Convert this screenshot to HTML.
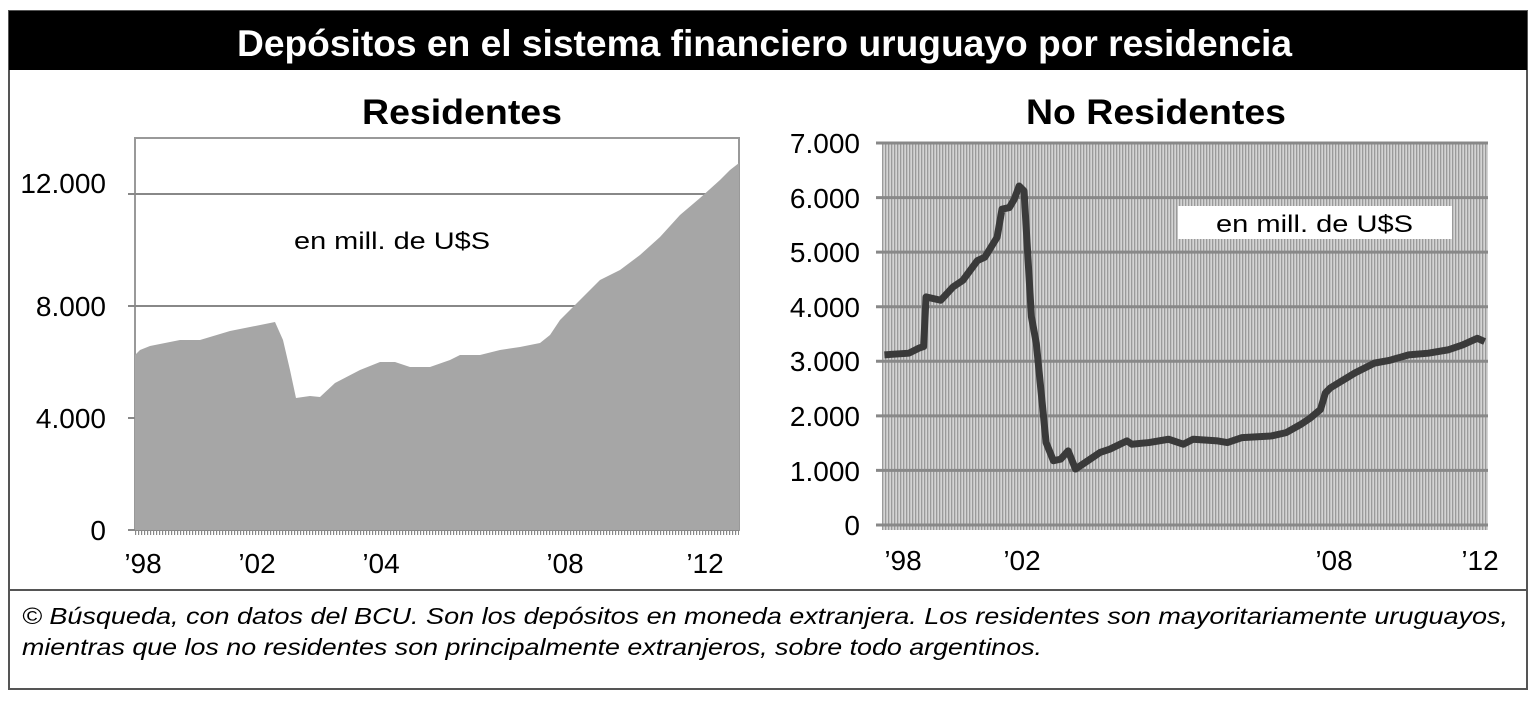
<!DOCTYPE html>
<html><head><meta charset="utf-8"><style>
body{margin:0;background:#fff;width:1536px;height:703px;overflow:hidden;font-family:"Liberation Sans",sans-serif}
</style></head><body>
<svg width="1536" height="703" xmlns="http://www.w3.org/2000/svg" font-family="Liberation Sans, sans-serif">
<defs>
<pattern id="st" width="3" height="10" patternUnits="userSpaceOnUse">
<rect width="3" height="10" fill="#d4d4d4"/><rect width="1.3" height="10" fill="#9a9a9a"/>
</pattern>
<pattern id="tk" width="3" height="6" patternUnits="userSpaceOnUse">
<rect width="1.2" height="6" fill="#888"/>
</pattern>
</defs>
<rect x="9" y="11" width="1518" height="678" fill="#fff" stroke="#555" stroke-width="2"/>
<rect x="9" y="11" width="1518" height="59" fill="#000"/>
<text x="237" y="56" font-size="37" font-weight="bold" fill="#fff" textLength="1055" lengthAdjust="spacingAndGlyphs">Depósitos en el sistema financiero uruguayo por residencia</text>
<text x="362" y="124" font-size="35" font-weight="bold" textLength="200" lengthAdjust="spacingAndGlyphs">Residentes</text>
<text x="1026" y="124" font-size="35" font-weight="bold" textLength="260" lengthAdjust="spacingAndGlyphs">No Residentes</text>
<!-- left chart -->
<rect x="135" y="138" width="604" height="392" fill="#fff" stroke="#999" stroke-width="2"/>
<line x1="128" y1="194" x2="739" y2="194" stroke="#888" stroke-width="2"/>
<line x1="128" y1="306" x2="739" y2="306" stroke="#888" stroke-width="2"/>
<line x1="128" y1="418" x2="135" y2="418" stroke="#888" stroke-width="2"/>
<line x1="128" y1="530" x2="739" y2="530" stroke="#888" stroke-width="2"/>
<polygon fill="#a6a6a6" points="135,530 135,355 140,350 150,346 170,342 180,340 200,340 230,331 250,327 275,322 283,340 290,370 296,398 310,396 320,397 335,383 360,370 380,362 395,362 410,367 430,367 450,360 460,355 480,355 500,350 520,347 540,343 550,335 560,320 580,300 600,280 620,270 640,255 660,237 680,215 700,198 720,180 730,170 739,163 739,530"/>
<rect x="135" y="530" width="604" height="5" fill="url(#tk)"/>
<g font-size="28" text-anchor="end">
<text x="106" y="193">12.000</text><text x="106" y="316">8.000</text><text x="106" y="428">4.000</text><text x="106" y="540">0</text>
</g>
<text x="294" y="249" font-size="24" textLength="196" lengthAdjust="spacingAndGlyphs">en mill. de U$S</text>
<g font-size="28" text-anchor="middle">
<text x="143" y="573">’98</text><text x="257" y="573">’02</text><text x="381" y="573">’04</text><text x="565" y="573">’08</text><text x="705" y="573">’12</text>
</g>
<!-- right chart -->
<rect x="882" y="143" width="606" height="387" fill="url(#st)"/>
<g stroke="#888" stroke-width="3">
<line x1="876" y1="143" x2="1488" y2="143"/><line x1="876" y1="197.6" x2="1488" y2="197.6"/>
<line x1="876" y1="252.1" x2="1488" y2="252.1"/><line x1="876" y1="306.7" x2="1488" y2="306.7"/>
<line x1="876" y1="361.3" x2="1488" y2="361.3"/><line x1="876" y1="415.9" x2="1488" y2="415.9"/>
<line x1="876" y1="470.4" x2="1488" y2="470.4"/><line x1="876" y1="525" x2="1488" y2="525"/>
</g>
<rect x="1178" y="206" width="274" height="33" fill="#fff"/>
<text x="1216" y="232" font-size="24" textLength="197" lengthAdjust="spacingAndGlyphs">en mill. de U$S</text>
<g transform="translate(766.8,124.8) scale(0.49,0.331)">
<polyline fill="none" stroke="#3a3a3a" stroke-width="7" vector-effect="non-scaling-stroke" stroke-linejoin="round" points="240,695 290,690 310,675 320,670 325,520 355,530 380,490 400,470 430,410 445,400 470,340 480,255 495,250 505,225 515,185 525,200 540,580 550,660 570,960 585,1015 600,1010 615,985 630,1040 650,1020 680,990 700,980 735,955 745,965 780,960 820,950 850,965 870,950 920,955 940,960 970,945 1030,940 1060,930 1090,905 1110,885 1130,860 1140,810 1150,795 1200,750 1240,720 1270,712 1310,695 1350,690 1390,680 1420,665 1450,645 1465,655"/>
</g>
<g font-size="28" text-anchor="end">
<text x="860" y="153">7.000</text><text x="860" y="208">6.000</text><text x="860" y="262">5.000</text><text x="860" y="317">4.000</text><text x="860" y="371">3.000</text><text x="860" y="426">2.000</text><text x="860" y="481">1.000</text><text x="860" y="535">0</text>
</g>
<g font-size="28" text-anchor="middle">
<text x="903" y="570">’98</text><text x="1022" y="570">’02</text><text x="1334" y="570">’08</text><text x="1480" y="570">’12</text>
</g>
<line x1="9" y1="590" x2="1527" y2="590" stroke="#555" stroke-width="2"/>
<g font-size="23" font-style="italic">
<text x="22" y="624" textLength="1486" lengthAdjust="spacingAndGlyphs">© Búsqueda, con datos del BCU. Son los depósitos en moneda extranjera. Los residentes son mayoritariamente uruguayos,</text>
<text x="22" y="655" textLength="1020" lengthAdjust="spacingAndGlyphs">mientras que los no residentes son principalmente extranjeros, sobre todo argentinos.</text>
</g>
</svg>
</body></html>
